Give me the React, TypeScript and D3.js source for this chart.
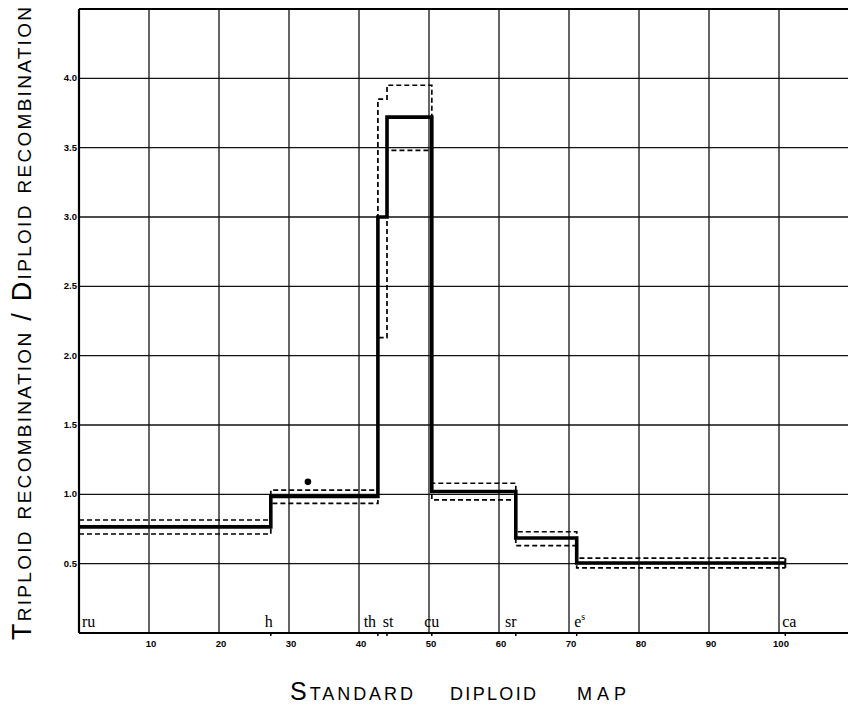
import React from "react";
import * as d3 from "d3";

// ---- data ----
const geneNames = ["ru", "h", "th", "st", "cu", "sr", "e", "ca"];
const genePos = [0, 27.4, 42.7, 44.0, 50.4, 62.4, 71.1, 100.9];
const ratio = [0.765, 0.985, 3.0, 3.72, 1.02, 0.685, 0.505];
const upperLimit = [0.815, 1.03, 3.85, 3.95, 1.08, 0.73, 0.54];
const lowerLimit = [0.714, 0.935, 2.13, 3.48, 0.96, 0.63, 0.47];
const xTicks = [10, 20, 30, 40, 50, 60, 70, 80, 90, 100];
const yTicks = [0.5, 1.0, 1.5, 2.0, 2.5, 3.0, 3.5, 4.0];
const yTickLabels = ["0.5", "1.0", "1.5", "2.0", "2.5", "3.0", "3.5", "4.0"];
const extraPoint = { x: 32.7, y: 1.09 };

const W = 848;
const H = 709;

export default function App() {
  const x = d3.scaleLinear().domain([0, 100]).range([79, 779]);
  const y = d3.scaleLinear().domain([0, 4.5]).range([633, 9]);
  const rightEdge = W;

  const stepLine = (vals: number[]) => {
    const pts: [number, number][] = genePos.map((p, i) => [
      p,
      vals[Math.min(i, vals.length - 1)],
    ]);
    return d3
      .line<[number, number]>()
      .x((d) => x(d[0]))
      .y((d) => y(d[1]))
      .curve(d3.curveStepAfter)(pts) as string;
  };

  const lastPos = genePos[genePos.length - 1];
  const nSeg = ratio.length;

  const labelOffsets: Record<string, { dx: number; anchor: string }> = {
    ru: { dx: 3, anchor: "start" },
    h: { dx: -2, anchor: "middle" },
    th: { dx: -8, anchor: "middle" },
    st: { dx: 1, anchor: "middle" },
    cu: { dx: 0, anchor: "middle" },
    sr: { dx: -5, anchor: "middle" },
    e: { dx: 3, anchor: "middle" },
    ca: { dx: 4, anchor: "middle" },
  };

  return (
    <svg
      width={W}
      height={H}
      style={{ position: "absolute", left: 0, top: 0, background: "#fff" }}
    >
      {/* grid */}
      <g stroke="#111" strokeWidth={1.3}>
        {yTicks.map((t) => (
          <line key={"h" + t} x1={x(0)} x2={rightEdge} y1={y(t)} y2={y(t)} />
        ))}
        {xTicks.map((t) => (
          <line key={"v" + t} x1={x(t)} x2={x(t)} y1={y(4.5)} y2={y(0)} />
        ))}
      </g>
      {/* border / axes */}
      <g stroke="#000" strokeWidth={2.2}>
        <line x1={x(0)} x2={rightEdge} y1={y(4.5)} y2={y(4.5)} />
        <line x1={x(0)} x2={x(0)} y1={y(4.5)} y2={y(0)} />
        <line x1={x(0)} x2={rightEdge} y1={y(0)} y2={y(0)} />
      </g>
      {/* small ticks at gene positions */}
      <g stroke="#000" strokeWidth={1.5}>
        {genePos.slice(1).map((p, i) => (
          <line key={"gt" + i} x1={x(p)} x2={x(p)} y1={y(0)} y2={y(0) + 3} />
        ))}
      </g>
      {/* tick labels */}
      <g
        fontFamily="'Liberation Sans', 'DejaVu Sans', sans-serif"
        fontSize={9.5}
        fontWeight="bold"
        fill="#000"
      >
        {yTicks.map((t, i) => (
          <text key={"yl" + t} x={x(0) - 2} y={y(t) + 3} textAnchor="end">
            {yTickLabels[i]}
          </text>
        ))}
        {xTicks.map((t) => (
          <text key={"xl" + t} x={x(t) + 2} y={y(0) + 14} textAnchor="middle">
            {t}
          </text>
        ))}
      </g>
      {/* confidence envelopes */}
      <g fill="none" stroke="#000" strokeWidth={1.7} strokeDasharray="5,3">
        <path d={stepLine(upperLimit)} />
        <path d={stepLine(lowerLimit)} />
      </g>
      <line
        x1={x(lastPos)}
        x2={x(lastPos)}
        y1={y(upperLimit[nSeg - 1])}
        y2={y(lowerLimit[nSeg - 1])}
        stroke="#000"
        strokeWidth={2}
      />
      {/* ratio line */}
      <path
        d={stepLine(ratio)}
        fill="none"
        stroke="#000"
        strokeWidth={3.6}
        strokeLinejoin="miter"
      />
      {/* extra point */}
      <circle cx={x(extraPoint.x)} cy={y(extraPoint.y)} r={3.3} fill="#000" />
      {/* gene labels */}
      <g
        fontFamily="'Liberation Serif', 'DejaVu Serif', serif"
        fontSize={16}
        fill="#000"
      >
        {geneNames.map((g, i) => {
          const o = labelOffsets[g];
          return (
            <text
              key={"g" + g}
              x={x(genePos[i]) + o.dx}
              y={y(0) - 6}
              textAnchor={o.anchor}
            >
              {g}
              {g === "e" ? (
                <tspan fontSize={10} dy={-7}>
                  s
                </tspan>
              ) : null}
            </text>
          );
        })}
      </g>
      {/* axis titles */}
      <text
        transform={`translate(31, 640) rotate(-90)`}
        fontFamily="'Liberation Sans', 'DejaVu Sans', sans-serif"
        fontSize={27}
        style={{ fontVariant: "small-caps" }}
        textLength={633}
        lengthAdjust="spacing"
        fill="#000"
      >
        Triploid recombination / Diploid recombination
      </text>
      <g
        fontFamily="'Liberation Sans', 'DejaVu Sans', sans-serif"
        fontSize={25}
        style={{ fontVariant: "small-caps" }}
        fill="#000"
      >
        <text x={290} y={700} textLength={123} lengthAdjust="spacing">
          Standard
        </text>
        <text x={450} y={700} textLength={86} lengthAdjust="spacing">
          diploid
        </text>
        <text x={577} y={700} textLength={49} lengthAdjust="spacing">
          map
        </text>
      </g>
    </svg>
  );
}
